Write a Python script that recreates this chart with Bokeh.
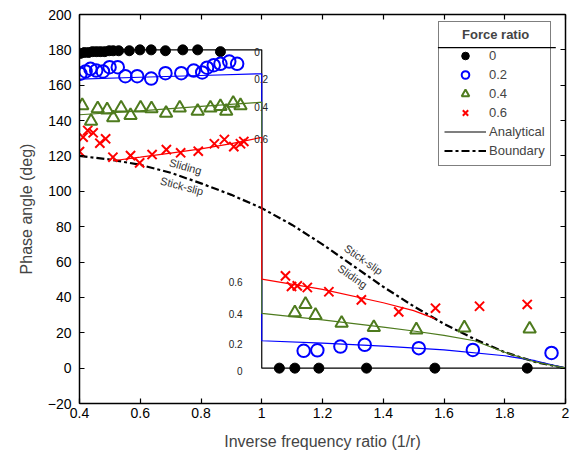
from bokeh.plotting import figure
from bokeh.models import (ColumnDataSource, Legend, LegendItem, LinearAxis, FixedTicker,
                          CustomJSTickFormatter, Range1d)
from bokeh.core.properties import value
from bokeh.embed import file_html
from bokeh.resources import INLINE

FONT = "Liberation Sans"

# ---------------- data ----------------
# measured points, force ratio 0
x0 = [0.403, 0.416, 0.430, 0.443, 0.456, 0.469, 0.483, 0.498, 0.511, 0.529, 0.564, 0.599, 0.636,
      0.683, 0.740, 0.789, 0.864,
      1.058, 1.109, 1.188, 1.345, 1.570, 1.874]
y0 = [178, 178.5, 178.5, 179, 179, 179, 179, 179.5, 179.5, 179.5, 179.5, 180, 180,
      179.5, 180, 180, 179,
      0, 0, 0, 0, 0, 0]
# force ratio 0.2
x2 = [0.403, 0.420, 0.436, 0.455, 0.477, 0.499, 0.526, 0.551, 0.590, 0.636, 0.683, 0.735, 0.776,
      0.804, 0.820, 0.842, 0.864, 0.893, 0.919,
      1.138, 1.183, 1.259, 1.339, 1.517, 1.695, 1.954]
y2 = [166.5, 167.8, 169.3, 168.3, 167.8, 170.2, 170.2, 165.1, 165.1, 163.8, 166.8, 166.8, 168.3,
      167.2, 169.9, 171.3, 172.1, 173.4, 172.1,
      9.8, 10.1, 12.2, 13.2, 11.3, 10.3, 8.6]
# force ratio 0.4
x4 = [0.409, 0.438, 0.460, 0.491, 0.511, 0.537, 0.568, 0.601, 0.637, 0.685, 0.730, 0.789, 0.831,
      0.864, 0.883, 0.906, 0.930,
      1.109, 1.144, 1.177, 1.263, 1.369, 1.509, 1.667, 1.882]
y4 = [148.5, 139.7, 146.7, 146.1, 141.6, 147.2, 142.9, 147.2, 146.7, 144.2, 147.2, 145.3, 147.2,
      148.0, 145.3, 149.8, 148.5,
      31.4, 36.1, 29.9, 25.4, 23.0, 21.7, 22.8, 22.2]
# force ratio 0.6
x6 = [0.400, 0.412, 0.427, 0.445, 0.467, 0.486, 0.510, 0.568, 0.598, 0.639, 0.686, 0.733, 0.791,
      0.844, 0.877, 0.908, 0.930, 0.941,
      1.078, 1.098, 1.117, 1.150, 1.221, 1.328, 1.451, 1.572, 1.717, 1.874]
y6 = [122.5, 130.6, 134.4, 133.1, 127.2, 129.7, 119.3, 120.2, 116.1, 120.8, 123.6, 121.8, 122.7,
      126.9, 129.3, 125.3, 126.9, 128.2,
      52.2, 46.2, 46.5, 45.6, 43.2, 38.6, 31.8, 33.9, 35.0, 36.0]

# analytical curves (upper branch, jump at 1/r = 1, lower branch)
ax0 = [0.4, 1.0, 1.0, 2.0]
ay0 = [180, 180, 0, 0]
ax2 = [0.4, 0.6, 0.8, 1.0, 1.0, 1.2, 1.4, 1.6, 1.8, 1.9, 2.0]
ay2 = [163.5, 164.5, 165.5, 166.5, 15.5, 14.2, 12.5, 10.3, 7.0, 4.2, 0]
ax4 = [0.4, 0.6, 0.8, 1.0, 1.0, 1.2, 1.4, 1.5, 1.6, 1.7, 1.8, 1.9, 2.0]
ay4 = [143.3, 145.5, 148.0, 150.4, 31.0, 27.3, 23.2, 21.0, 18.5, 15.5, 9.0, 3.5, 0]
ax6 = [0.51, 0.6, 0.7, 0.8, 0.9, 1.0, 1.0, 1.2, 1.4, 1.5, 1.57]
ay6 = [117.3, 119.3, 121.6, 124.0, 127.0, 130.5, 50.3, 44.5, 37.0, 32.5, 28.0]

# boundary between sliding and stick-slip
bx = [0.4, 0.5, 0.6, 0.7, 0.8, 0.9, 1.0, 1.1, 1.2, 1.3, 1.4, 1.5, 1.6, 1.7, 1.8, 1.9, 2.0]
by = [120, 118, 115, 110.5, 104.5, 98, 90.5, 81, 70, 58, 46, 35, 25, 16.5, 9, 3.5, 0]

# curve labels
up_lab_x = [0.975, 0.975, 0.975, 0.975]
up_lab_y = [179, 163.8, 147.8, 129.6]
up_lab = ["0", "0.2", "0.4", "0.6"]
lo_lab_x = [0.937, 0.937, 0.937, 0.937]
lo_lab_y = [48.7, 30.6, 13.9, -1.4]
lo_lab = ["0.6", "0.4", "0.2", "0"]

reg_x = [0.749, 0.737, 1.335, 1.299]
reg_y = [114, 103, 61.4, 51.8]
reg_txt = ["Sliding", "Stick-slip", "Stick-slip", "Sliding"]
reg_ang = [-15.5, -15, -35, -35]

x_ticks = [0.4, 0.6, 0.8, 1.0, 1.2, 1.4, 1.6, 1.8, 2.0]
y_ticks = [-20, 0, 20, 40, 60, 80, 100, 120, 140, 160, 180, 200]

# legend title separator (data coordinates of the legend box edges)
sep_x = [1.580, 1.968]
sep_y = [181.3, 181.3]

BLUE = "#0000FF"
GREEN = "#4E7B1E"
RED = "#FF0000"

# ---------------- figure ----------------
p = figure(width=578, height=465, x_range=Range1d(0.4, 2.0), y_range=Range1d(-20, 200),
           output_backend="svg", toolbar_location=None,
           min_border_left=79, min_border_right=13, min_border_top=14, min_border_bottom=62)
p.xgrid.visible = False
p.ygrid.visible = False
p.outline_line_color = "black"
p.background_fill_color = "white"
p.border_fill_color = "white"

fmt = CustomJSTickFormatter(code="return String(Math.round(tick*10)/10);")
blank = CustomJSTickFormatter(code="return '';")

def style_axis(ax):
    ax.axis_line_color = "black"
    ax.axis_line_width = 1.5
    ax.major_tick_in = 5
    ax.major_tick_out = 0
    ax.major_tick_line_color = "black"
    ax.major_tick_line_width = 1.2
    ax.minor_tick_line_color = None
    ax.major_label_text_font = FONT
    ax.major_label_text_font_size = "14px"
    ax.major_label_text_color = "black"

xa = p.xaxis[0]
xa.ticker = FixedTicker(ticks=x_ticks)
xa.formatter = fmt
style_axis(xa)
xa.major_label_standoff = 4
xa.axis_label = "Inverse frequency ratio (1/r)"
xa.axis_label_text_font = FONT
xa.axis_label_text_font_size = "16px"
xa.axis_label_text_font_style = "normal"
xa.axis_label_standoff = 12

ya = p.yaxis[0]
ya.ticker = FixedTicker(ticks=y_ticks)
style_axis(ya)
ya.major_label_standoff = 8
ya.axis_label = "Phase angle (deg)"
ya.axis_label_text_font = FONT
ya.axis_label_text_font_size = "16px"
ya.axis_label_text_font_style = "normal"
ya.axis_label_standoff = 10

top = LinearAxis(ticker=FixedTicker(ticks=x_ticks), formatter=blank)
style_axis(top)
top.major_label_standoff = 0
p.add_layout(top, "above")
right = LinearAxis(ticker=FixedTicker(ticks=y_ticks), formatter=blank)
style_axis(right)
right.major_label_standoff = 0
p.add_layout(right, "right")

# legend title separator (drawn below a transparent legend)
p.line(sep_x, sep_y, line_color="black", line_width=1.2)

# boundary
r_bound = p.line(bx, by, line_color="black", line_width=2.2, line_dash="8 3 3 3")

# analytical
r_an0 = p.line(ax0, ay0, line_color="black", line_width=1.2)
p.line(ax2, ay2, line_color=BLUE, line_width=1.2)
p.line(ax4, ay4, line_color=GREEN, line_width=1.2)
p.line(ax6, ay6, line_color=RED, line_width=1.2)

# measured
r0 = p.scatter(x0, y0, marker="circle", size=10, fill_color="black", line_color="black")
r2 = p.scatter(x2, y2, marker="circle", size=12.5, fill_color=None, line_color=BLUE, line_width=2)
r4 = p.scatter(x4, y4, marker="triangle", size=12.5, fill_color=None, line_color=GREEN, line_width=2)
r6 = p.scatter(x6, y6, marker="x", size=13, line_color=RED, line_width=2)

# curve labels
p.text(up_lab_x, up_lab_y, text=up_lab, text_font=value(FONT), text_font_size="10px",
       text_color="#222222", text_align="left", text_baseline="middle")
p.text(lo_lab_x, lo_lab_y, text=lo_lab, text_font=value(FONT), text_font_size="10px",
       text_color="#222222", text_align="right", text_baseline="middle")
src = ColumnDataSource(dict(x=reg_x, y=reg_y, t=reg_txt, a=reg_ang))
p.text("x", "y", text="t", angle="a", angle_units="deg", source=src, text_font=value(FONT),
       text_font_size="11px", text_color="#333333", text_align="center", text_baseline="middle")

legend = Legend(items=[
    LegendItem(label="0", renderers=[r0]),
    LegendItem(label="0.2", renderers=[r2]),
    LegendItem(label="0.4", renderers=[r4]),
    LegendItem(label="0.6", renderers=[r6]),
    LegendItem(label="Analytical", renderers=[r_an0]),
    LegendItem(label="Boundary", renderers=[r_bound]),
], location=(359, 237))
legend.title = "\u00a0\u00a0\u00a0\u00a0\u00a0Force ratio"
legend.title_text_font = FONT
legend.title_text_font_style = "bold"
legend.title_text_font_size = "13px"
legend.title_standoff = 4
legend.label_text_font = FONT
legend.label_text_font_size = "13px"
legend.glyph_width = 42
legend.glyph_height = 19
legend.label_height = 19
legend.label_standoff = 3
legend.spacing = 0
legend.padding = 5
legend.margin = 0
legend.border_line_color = "black"
legend.border_line_width = 1.5
legend.background_fill_alpha = 0.0
p.add_layout(legend, "center")

open("out.html", "w").write(file_html(p, INLINE))
